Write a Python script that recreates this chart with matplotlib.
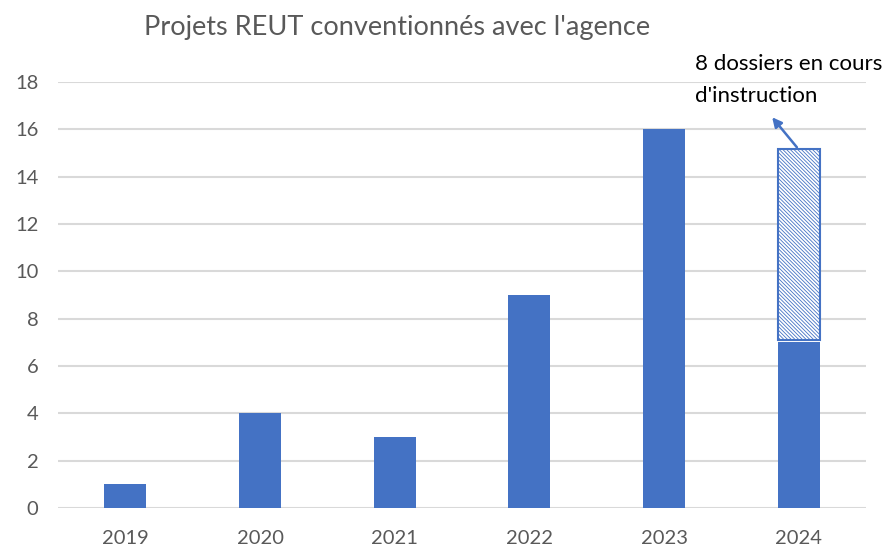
import matplotlib
matplotlib.use('Agg')
from matplotlib import pyplot as plt

years = ['2019', '2020', '2021', '2022', '2023', '2024']
projets = [1, 4, 3, 9, 16, 7]
# 2024 : dossiers en cours d'instruction (rectangle hachuré)
en_cours_bas = 7.1
en_cours_haut = 15.15
titre = "Projets REUT conventionnés avec l'agence"
note = "8 dossiers en cours\nd'instruction"

plt.rcParams['font.family'] = ['Lato', 'DejaVu Sans']
blue = '#4472C4'
grey = '#595959'

fig = plt.figure(figsize=(8.91, 5.48), dpi=100)
ax = fig.add_axes([58/891, 40/548, 808/891, 426/548])

x = range(len(years))
ax.bar(x, projets, width=0.31, color=blue, zorder=3)
plt.rcParams['hatch.color'] = '#5a7bbf'
plt.rcParams['hatch.linewidth'] = 0.6
ax.bar(5, en_cours_haut - en_cours_bas, bottom=en_cours_bas, width=0.31,
       facecolor='white', edgecolor=blue, hatch='\\' * 9, linewidth=1.5, zorder=4)

ax.set_xlim(-0.5, 5.5)
ax.set_ylim(0, 18)
ax.set_yticks(range(0, 19, 2))
ax.set_xticks(list(x))
ax.set_xticklabels(years)
ax.grid(axis='y', color='#d9d9d9', linewidth=1.5, zorder=0)
for s in ax.spines.values():
    s.set_visible(False)
ax.tick_params(length=0, labelsize=14.5, colors=grey)
ax.tick_params(axis='y', pad=14)
ax.tick_params(axis='x', pad=16)

fig.text(397/891, 1 - 27/548, titre, ha='center', va='center', fontsize=19.5, color=grey)

ax.annotate('', xy=(4.79, 16.6), xytext=(5.0, en_cours_haut),
            arrowprops=dict(arrowstyle='-|>', color=blue, lw=1.8, mutation_scale=14), zorder=5)
fig.text(695/891, 1 - 54/548, note, ha='left', va='top', fontsize=16,
         color='black', linespacing=1.75)

plt.savefig('out.png', dpi=100)
